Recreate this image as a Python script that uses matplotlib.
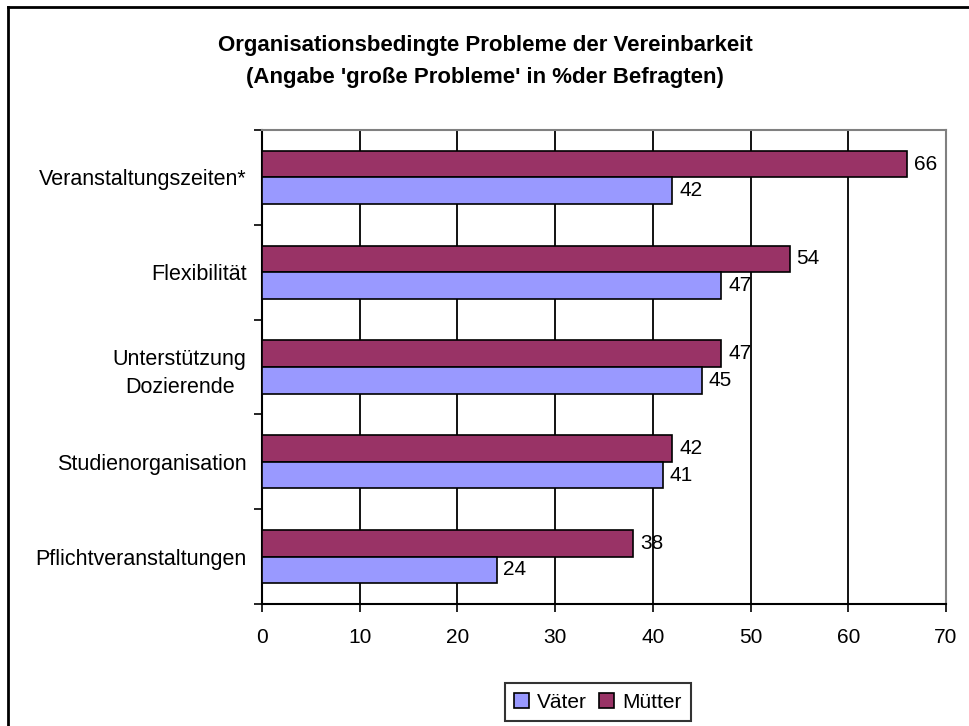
import numpy as np
import matplotlib
matplotlib.use("Agg")
import matplotlib.pyplot as plt
from matplotlib.lines import Line2D

plt.rcParams['font.family'] = ['Liberation Sans', 'DejaVu Sans']

# ===== Data =====
categories = ["Veranstaltungszeiten*", "Flexibilität", "Unterstützung\nDozierende",
              "Studienorganisation", "Pflichtveranstaltungen"]
muetter = [66, 54, 47, 42, 38]
vaeter = [42, 47, 45, 41, 24]
x_ticks = [0, 10, 20, 30, 40, 50, 60, 70]

COL_M = "#993366"
COL_V = "#9999FF"
BAR_H = 0.28
FS = 15

fig = plt.figure(figsize=(9.7, 7.26), dpi=100)
ax = fig.add_axes([262/970, 1-604/726, (946-262)/970, (604-130)/726])

y = np.arange(len(categories))
ax.barh(y - BAR_H/2, muetter, height=BAR_H, color=COL_M, edgecolor="black", lw=1.2, label="Mütter", zorder=3)
ax.barh(y + BAR_H/2, vaeter, height=BAR_H, color=COL_V, edgecolor="black", lw=1.2, label="Väter", zorder=3)

for yi, m, v in zip(y, muetter, vaeter):
    ax.annotate(str(m), (m, yi - BAR_H/2), xytext=(5, 0), textcoords="offset points",
                va="center", ha="left", fontsize=FS)
    ax.annotate(str(v), (v, yi + BAR_H/2), xytext=(5, 0), textcoords="offset points",
                va="center", ha="left", fontsize=FS)

ax.set_xlim(0, 70)
ax.set_ylim(len(categories) - 0.5, -0.5)
ax.set_xticks(x_ticks)
ax.set_xticklabels([str(t) for t in x_ticks], fontsize=FS)
ax.tick_params(axis="x", direction="out", length=6, width=1.2, pad=11)

# category ticks at slot boundaries, labels at slot centers
ax.set_yticks(np.arange(len(categories) + 1) - 0.5)
ax.set_yticklabels([])
ax.set_yticks(y, minor=True)
ax.set_yticklabels(categories, minor=True, fontsize=15.5, multialignment="center",
                   linespacing=1.45)
ax.tick_params(axis="y", which="major", direction="out", length=6, width=1.2)
ax.tick_params(axis="y", which="minor", length=0, pad=11)

ax.grid(True, axis="x", color="black", lw=1.3, zorder=0)
for s in ("top", "right"):
    ax.spines[s].set_color("#808080")
    ax.spines[s].set_linewidth(1.5)
for s in ("left", "bottom"):
    ax.spines[s].set_color("black")
    ax.spines[s].set_linewidth(1.5)

fig.text(0.5, 1-45/726, "Organisationsbedingte Probleme der Vereinbarkeit",
         ha="center", va="center", fontsize=16, fontweight="bold")
fig.text(0.5, 1-78/726, "(Angabe 'große Probleme' in %der Befragten)",
         ha="center", va="center", fontsize=16, fontweight="bold")

h, l = ax.get_legend_handles_labels()
leg = fig.legend(h[::-1], l[::-1], loc="center", bbox_to_anchor=(598/970, 1-702/726),
                 ncol=2, fontsize=FS, frameon=True, fancybox=False, edgecolor="black",
                 handlelength=0.7, handleheight=0.7, handletextpad=0.4, columnspacing=0.6,
                 borderpad=0.45, borderaxespad=0)
leg.get_frame().set_linewidth(1.5)

# outer chart frame (only left and top edges visible)
fig.add_artist(Line2D([8/970, 8/970], [1-7/726, 0], transform=fig.transFigure, color="black", lw=2))
fig.add_artist(Line2D([8/970, 1], [1-7/726, 1-7/726], transform=fig.transFigure, color="black", lw=2))

fig.savefig("out.png", dpi=100)
